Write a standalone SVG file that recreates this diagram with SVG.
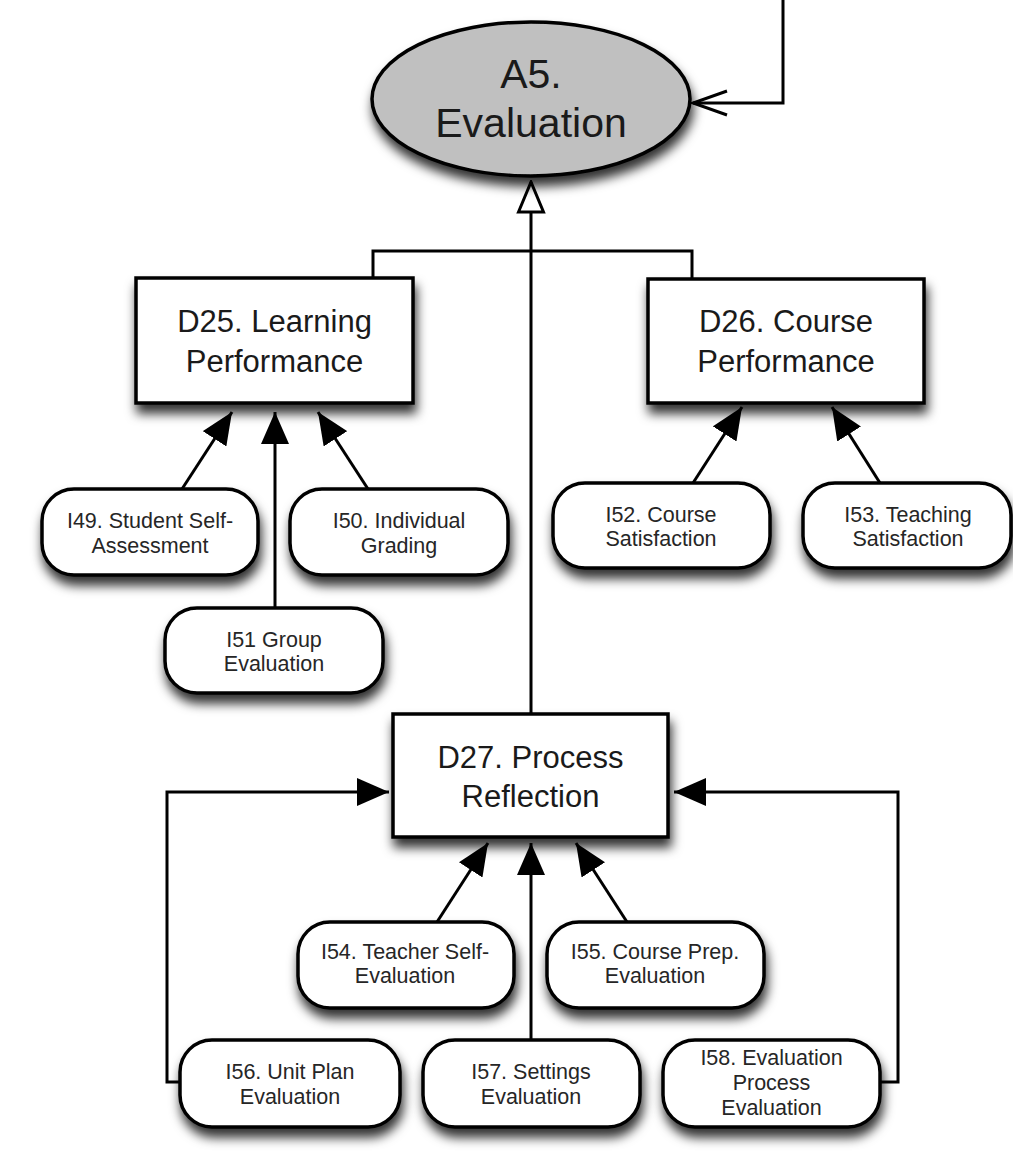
<svg xmlns="http://www.w3.org/2000/svg" width="1013" height="1158" viewBox="0 0 1013 1158">
<style>
.box{fill:#fff;stroke:#000;stroke-width:3.5;filter:url(#sh)}
.ell{fill:#c0c0c0;stroke:#000;stroke-width:3.5;filter:url(#sh)}
.big{font-family:"Liberation Sans",Arial,sans-serif;font-size:31px;fill:#1a1a1a;text-anchor:middle}
.huge{font-family:"Liberation Sans",Arial,sans-serif;font-size:41px;fill:#1a1a1a;text-anchor:middle}
.sm{font-family:"Liberation Sans",Arial,sans-serif;font-size:21.5px;fill:#262626;text-anchor:middle}
.ln{fill:none;stroke:#000;stroke-width:3}
</style>
<defs>
<filter id="sh" x="-20%" y="-30%" width="140%" height="170%">
<feGaussianBlur in="SourceAlpha" stdDeviation="5.5"/>
<feOffset dx="2" dy="9" result="b"/>
<feFlood flood-color="#000" flood-opacity="0.8"/>
<feComposite in2="b" operator="in" result="s"/>
<feMerge><feMergeNode in="s"/><feMergeNode in="SourceGraphic"/></feMerge>
</filter>
<marker id="ah" markerUnits="userSpaceOnUse" markerWidth="32" markerHeight="28" viewBox="0 0 32 28" refX="32" refY="14" orient="auto">
<path d="M0,0 L32,14 L0,28 Z" fill="#000"/>
</marker>
<marker id="hollow" markerUnits="userSpaceOnUse" markerWidth="34" markerHeight="30" viewBox="0 0 34 30" refX="32" refY="15" orient="auto">
<path d="M2,2.5 L32,15 L2,27.5 Z" fill="#fff" stroke="#000" stroke-width="3"/>
</marker>
<marker id="open" markerUnits="userSpaceOnUse" markerWidth="40" markerHeight="30" viewBox="0 0 40 30" refX="37" refY="15" orient="auto">
<path d="M3,3 L37,15 L3,27" fill="none" stroke="#000" stroke-width="3"/>
</marker>
</defs>

<g id="connectors">
<path class="ln" d="M783,0 L783,103 L693,103" marker-end="url(#open)"/>
<path class="ln" d="M373,278 L373,251 L692,251 L692,279"/>
<path class="ln" d="M531,713 L531,182" marker-end="url(#hollow)"/>
<path class="ln" d="M182,489 L232,412" marker-end="url(#ah)"/>
<path class="ln" d="M275,608 L275,412" marker-end="url(#ah)"/>
<path class="ln" d="M368,489 L318,412" marker-end="url(#ah)"/>
<path class="ln" d="M693,483 L742,407" marker-end="url(#ah)"/>
<path class="ln" d="M880,483 L832,407" marker-end="url(#ah)"/>
<path class="ln" d="M437,922 L488,843" marker-end="url(#ah)"/>
<path class="ln" d="M531,1040 L531,843" marker-end="url(#ah)"/>
<path class="ln" d="M627,922 L576,843" marker-end="url(#ah)"/>
<path class="ln" d="M180,1082 L167,1082 L167,792 L389,792" marker-end="url(#ah)"/>
<path class="ln" d="M880,1082 L898,1082 L898,792 L674,792" marker-end="url(#ah)"/>
</g>

<g id="A5">
<ellipse class="ell" cx="531" cy="99" rx="159" ry="77"/>
<text class="huge" x="531" y="88">A5.</text>
<text class="huge" x="531" y="137">Evaluation</text>
</g>

<g id="D25">
<rect class="box" x="136" y="278" width="277" height="125"/>
<text class="big" x="274.5" y="332">D25. Learning</text>
<text class="big" x="274.5" y="372">Performance</text>
</g>

<g id="D26">
<rect class="box" x="648" y="279" width="276" height="124"/>
<text class="big" x="786" y="332">D26. Course</text>
<text class="big" x="786" y="372">Performance</text>
</g>

<g id="D27">
<rect class="box" x="393" y="714" width="275" height="123"/>
<text class="big" x="530.5" y="768">D27. Process</text>
<text class="big" x="530.5" y="807">Reflection</text>
</g>

<g id="I49">
<rect class="box" x="42" y="489" width="216" height="86" rx="32"/>
<text class="sm" x="150" y="528">I49. Student Self-</text>
<text class="sm" x="150" y="553">Assessment</text>
</g>

<g id="I50">
<rect class="box" x="290" y="489" width="218" height="86" rx="32"/>
<text class="sm" x="399" y="528">I50. Individual</text>
<text class="sm" x="399" y="553">Grading</text>
</g>

<g id="I51">
<rect class="box" x="165" y="608" width="218" height="85" rx="32"/>
<text class="sm" x="274" y="647">I51 Group</text>
<text class="sm" x="274" y="671">Evaluation</text>
</g>

<g id="I52">
<rect class="box" x="553" y="483" width="217" height="85" rx="32"/>
<text class="sm" x="661" y="522">I52. Course</text>
<text class="sm" x="661" y="546">Satisfaction</text>
</g>

<g id="I53">
<rect class="box" x="803" y="483" width="208" height="85" rx="32"/>
<text class="sm" x="908" y="522">I53. Teaching</text>
<text class="sm" x="908" y="546">Satisfaction</text>
</g>

<g id="I54">
<rect class="box" x="298" y="922" width="216" height="86" rx="32"/>
<text class="sm" x="405" y="959">I54. Teacher Self-</text>
<text class="sm" x="405" y="983">Evaluation</text>
</g>

<g id="I55">
<rect class="box" x="547" y="922" width="217" height="86" rx="32"/>
<text class="sm" x="655" y="959">I55. Course Prep.</text>
<text class="sm" x="655" y="983">Evaluation</text>
</g>

<g id="I56">
<rect class="box" x="180" y="1040" width="220" height="87" rx="32"/>
<text class="sm" x="290" y="1079">I56. Unit Plan</text>
<text class="sm" x="290" y="1104">Evaluation</text>
</g>

<g id="I57">
<rect class="box" x="423" y="1040" width="217" height="87" rx="32"/>
<text class="sm" x="531" y="1079">I57. Settings</text>
<text class="sm" x="531" y="1104">Evaluation</text>
</g>

<g id="I58">
<rect class="box" x="663" y="1040" width="217" height="87" rx="32"/>
<text class="sm" x="771.5" y="1065">I58. Evaluation</text>
<text class="sm" x="771.5" y="1090">Process</text>
<text class="sm" x="771.5" y="1115">Evaluation</text>
</g>
</svg>
